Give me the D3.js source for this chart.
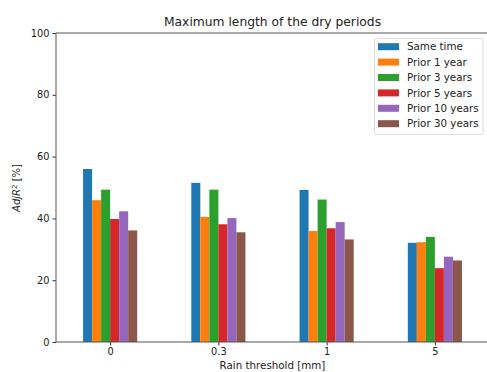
<!DOCTYPE html>
<html><head><meta charset="utf-8">
<script src="https://cdn.jsdelivr.net/npm/d3@7"></script>
<style>body{margin:0;background:#fff}svg{display:block}text{font-family:"DejaVu Sans",sans-serif;fill:#222}</style>
</head><body>
<svg id="c" width="487" height="372"></svg>
<script>
const categories = ["0", "0.3", "1", "5"];
const seriesNames = ["Same time", "Prior 1 year", "Prior 3 years", "Prior 5 years", "Prior 10 years", "Prior 30 years"];
const sameTime = [56.0, 51.5, 49.2, 32.1];
const prior1 = [45.9, 40.5, 35.9, 32.3];
const prior3 = [49.3, 49.3, 46.1, 34.0];
const prior5 = [39.8, 38.1, 36.8, 23.9];
const prior10 = [42.3, 40.1, 38.8, 27.6];
const prior30 = [36.1, 35.5, 33.2, 26.4];
const yTicks = [0, 20, 40, 60, 80, 100];
const colors = ["#1f77b4", "#ff7f0e", "#2ca02c", "#d62728", "#9467bd", "#8c564b"];
const series = [sameTime, prior1, prior3, prior5, prior10, prior30];

const svg = d3.select("#c");
const L = 56, T = 33, B = 342, R = 489;
const x = d3.scaleLinear().domain([-0.5, categories.length - 0.5]).range([L, R]);
const y = d3.scaleLinear().domain([0, 100]).range([B, T]);
const groupW = 0.5, barW = groupW / series.length;

series.forEach((vals, si) => {
  svg.append("g").selectAll("rect").data(vals).join("rect")
    .attr("x", (d, i) => x(i - groupW / 2 + si * barW))
    .attr("width", x(barW) - x(0))
    .attr("y", d => y(d))
    .attr("height", d => y(0) - y(d))
    .attr("fill", colors[si]);
});

// axes
const yAxis = d3.axisLeft(y).tickValues(yTicks).tickSize(3.5).tickPadding(3);
const gy = svg.append("g").attr("transform", `translate(${L},0)`).call(yAxis);
gy.select(".domain").remove();
gy.selectAll("line").attr("stroke", "#333");
gy.selectAll("text").style("font-size", "9.8px").attr("fill", "#222");

const xAxis = d3.axisBottom(x).tickValues(d3.range(categories.length)).tickFormat(i => categories[i]).tickSize(3.5).tickPadding(3);
const gx = svg.append("g").attr("transform", `translate(0,${B})`).call(xAxis);
gx.select(".domain").remove();
gx.selectAll("line").attr("stroke", "#333");
gx.selectAll("text").style("font-size", "9.8px").attr("fill", "#222");

// spines
const sp = "#555";
svg.append("line").attr("x1", L).attr("x2", L).attr("y1", T).attr("y2", B).attr("stroke", sp).attr("stroke-width", 1);
svg.append("line").attr("x1", L).attr("x2", R).attr("y1", B).attr("y2", B).attr("stroke", sp).attr("stroke-width", 1);
svg.append("line").attr("x1", L).attr("x2", R).attr("y1", T).attr("y2", T).attr("stroke", sp).attr("stroke-width", 1);

// title and labels
svg.append("text").attr("x", 272.5).attr("y", 26).attr("text-anchor", "middle").style("font-size", "12.3px").text("Maximum length of the dry periods");
svg.append("text").attr("x", 272.5).attr("y", 369).attr("text-anchor", "middle").style("font-size", "10.3px").text("Rain threshold [mm]");
const yl = svg.append("text").attr("transform", "translate(20,188) rotate(-90)").attr("text-anchor", "middle").style("font-size", "10px");
yl.append("tspan").style("font-style", "italic").text("AdjR");
yl.append("tspan").attr("dy", -3).style("font-size", "7px").text("2");
yl.append("tspan").attr("dy", 3).text(" [%]");

// legend
const lg = svg.append("g");
lg.append("rect").attr("x", 374.5).attr("y", 38.5).attr("width", 108.5).attr("height", 96).attr("rx", 2)
  .attr("fill", "#fff").attr("fill-opacity", 0.8).attr("stroke", "#ddd");
seriesNames.forEach((n, i) => {
  const cy = 46.7 + i * 15.4;
  lg.append("rect").attr("x", 378).attr("y", cy - 3.5).attr("width", 21).attr("height", 7).attr("fill", colors[i]);
  lg.append("text").attr("x", 407).attr("y", cy + 3.6).style("font-size", "10.3px").text(n);
});
</script>
</body></html>
